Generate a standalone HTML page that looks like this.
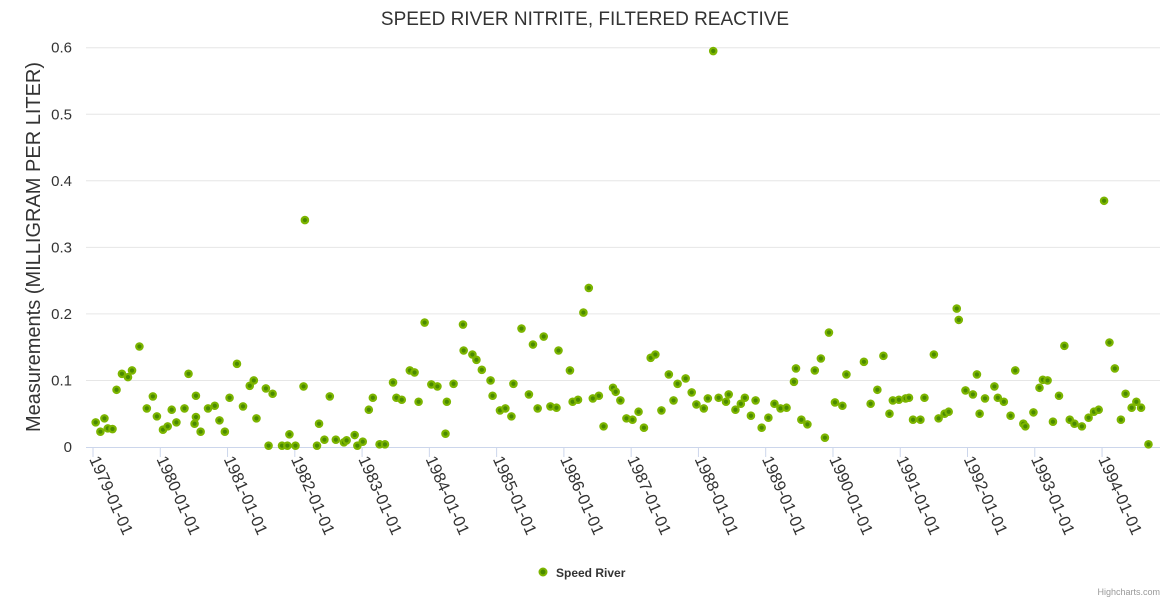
<!DOCTYPE html>
<html><head><meta charset="utf-8"><style>
body{margin:0;background:#fff;}
svg{display:block;font-family:"Liberation Sans","DejaVu Sans",sans-serif;}
</style></head><body>
<svg id="chart" width="1170" height="600" viewBox="0 0 1170 600">
<rect width="1170" height="600" fill="#fff"/>
<text x="585" y="25" text-anchor="middle" font-size="19" fill="#333">SPEED RIVER NITRITE, FILTERED REACTIVE</text>
<g id="grid"></g>
<g id="xaxis"></g>
<g id="yaxis"></g>
<text transform="translate(40,247) rotate(-90)" text-anchor="middle" font-size="20" fill="#333">Measurements (MILLIGRAM PER LITER)</text>
<g id="points"></g>
<g>
<circle cx="543" cy="572" r="3.5" fill="#4a8a00" stroke="#7cb500" stroke-width="2"/>
<text x="556" y="577" font-size="12" font-weight="bold" fill="#333">Speed River</text>
</g>
<text x="1160" y="595" text-anchor="end" font-size="9" fill="#999">Highcharts.com</text>
</svg>
<script>
const dates=[1979.04,1979.11,1979.17,1979.22,1979.29,1979.35,1979.43,1979.52,1979.58,1979.69,1979.80,1979.89,1979.95,1980.04,1980.11,1980.17,1980.24,1980.36,1980.42,1980.51,1980.53,1980.53,1980.60,1980.71,1980.81,1980.88,1980.96,1981.03,1981.14,1981.23,1981.33,1981.39,1981.43,1981.57,1981.61,1981.67,1981.81,1981.89,1981.92,1982.01,1982.13,1982.15,1982.33,1982.36,1982.44,1982.52,1982.61,1982.73,1982.77,1982.89,1982.93,1983.01,1983.10,1983.16,1983.26,1983.34,1983.46,1983.51,1983.59,1983.71,1983.78,1983.84,1983.93,1984.03,1984.12,1984.24,1984.26,1984.36,1984.50,1984.51,1984.64,1984.70,1984.78,1984.91,1984.94,1985.05,1985.13,1985.22,1985.25,1985.37,1985.48,1985.54,1985.61,1985.70,1985.80,1985.89,1985.92,1986.09,1986.13,1986.21,1986.29,1986.37,1986.43,1986.52,1986.59,1986.73,1986.77,1986.84,1986.93,1987.02,1987.11,1987.19,1987.29,1987.36,1987.45,1987.56,1987.63,1987.69,1987.81,1987.90,1987.97,1988.08,1988.14,1988.22,1988.30,1988.41,1988.45,1988.55,1988.63,1988.69,1988.78,1988.85,1988.94,1989.04,1989.13,1989.22,1989.31,1989.42,1989.45,1989.53,1989.62,1989.73,1989.82,1989.88,1989.94,1990.03,1990.14,1990.20,1990.46,1990.56,1990.66,1990.75,1990.84,1990.89,1990.98,1991.08,1991.13,1991.19,1991.30,1991.36,1991.50,1991.57,1991.66,1991.72,1991.84,1991.87,1991.97,1992.08,1992.14,1992.18,1992.26,1992.40,1992.45,1992.54,1992.64,1992.71,1992.83,1992.86,1992.98,1993.07,1993.12,1993.19,1993.27,1993.36,1993.44,1993.52,1993.59,1993.70,1993.80,1993.88,1993.95,1994.03,1994.11,1994.19,1994.28,1994.35,1994.44,1994.51,1994.58,1994.69];
const values=[0.037,0.023,0.043,0.028,0.027,0.086,0.110,0.105,0.115,0.151,0.058,0.076,0.046,0.026,0.031,0.056,0.037,0.058,0.110,0.035,0.077,0.045,0.023,0.058,0.062,0.040,0.023,0.074,0.125,0.061,0.092,0.100,0.043,0.088,0.002,0.080,0.002,0.002,0.019,0.002,0.091,0.341,0.002,0.035,0.011,0.076,0.011,0.007,0.010,0.018,0.002,0.008,0.056,0.074,0.004,0.004,0.097,0.074,0.071,0.115,0.112,0.068,0.187,0.094,0.091,0.020,0.068,0.095,0.184,0.145,0.139,0.131,0.116,0.100,0.077,0.055,0.058,0.046,0.095,0.178,0.079,0.154,0.058,0.166,0.061,0.059,0.145,0.115,0.068,0.071,0.202,0.239,0.073,0.077,0.031,0.089,0.083,0.070,0.043,0.041,0.053,0.029,0.134,0.139,0.055,0.109,0.070,0.095,0.103,0.082,0.064,0.058,0.073,0.595,0.074,0.068,0.079,0.056,0.065,0.074,0.047,0.070,0.029,0.044,0.065,0.058,0.059,0.098,0.118,0.041,0.034,0.115,0.133,0.014,0.172,0.067,0.062,0.109,0.128,0.065,0.086,0.137,0.050,0.070,0.071,0.073,0.074,0.041,0.041,0.074,0.139,0.043,0.050,0.053,0.208,0.191,0.085,0.079,0.109,0.050,0.073,0.091,0.074,0.068,0.047,0.115,0.035,0.031,0.052,0.089,0.101,0.100,0.038,0.077,0.152,0.041,0.035,0.031,0.044,0.053,0.056,0.370,0.157,0.118,0.041,0.080,0.059,0.068,0.059,0.004];
const yTicks=[0,0.1,0.2,0.3,0.4,0.5,0.6];
const yTickLabels=["0","0.1","0.2","0.3","0.4","0.5","0.6"];
const xTicks=[1979,1980,1981,1982,1983,1984,1985,1986,1987,1988,1989,1990,1991,1992,1993,1994];
const xTickLabels=["1979-01-01","1980-01-01","1981-01-01","1982-01-01","1983-01-01","1984-01-01","1985-01-01","1986-01-01","1987-01-01","1988-01-01","1989-01-01","1990-01-01","1991-01-01","1992-01-01","1993-01-01","1994-01-01"];

const NS="http://www.w3.org/2000/svg";
const x0=93,pxPerYear=67.27,y0=447,pxPerUnit=665.5;
function xs(d){return x0+(d-1979)*pxPerYear;}
function ys(v){return y0-v*pxPerUnit;}
function mk(tag,attrs,parent){const e=document.createElementNS(NS,tag);for(const k in attrs)e.setAttribute(k,attrs[k]);parent.appendChild(e);return e;}
const grid=document.getElementById('grid'),xa=document.getElementById('xaxis'),ya=document.getElementById('yaxis'),pts=document.getElementById('points');
yTicks.forEach((t,i)=>{
  const y=ys(t);
  if(t>0){const l=mk('line',{x1:86,x2:1160,y1:y,y2:y,stroke:'#e6e6e6','stroke-width':1},grid);
  
  }
  const tx=mk('text',{x:72,y:y+5,'text-anchor':'end','font-size':15,fill:'#333'},ya);
  tx.textContent=yTickLabels[i];
  
  
});
const ax=mk('line',{x1:86,x2:1160,y1:447.5,y2:447.5,stroke:'#ccd6eb','stroke-width':1},xa);


xTicks.forEach((t,i)=>{
  const x=xs(t);
  const tk=mk('line',{x1:x,x2:x,y1:447,y2:457,stroke:'#ccd6eb','stroke-width':1},xa);
  
  
  const tx=mk('text',{x:0,y:0,'font-size':16.5,fill:'#333',transform:`translate(${x-4},459) rotate(66)`},xa);
  tx.textContent=xTickLabels[i];
  
  
});
dates.forEach((d,i)=>{
  const c=mk('circle',{cx:xs(d),cy:ys(values[i]),r:3.2,fill:'#4a8a00',stroke:'#7cb500','stroke-width':2.2},pts);
  
  
});
</script>
</body></html>
